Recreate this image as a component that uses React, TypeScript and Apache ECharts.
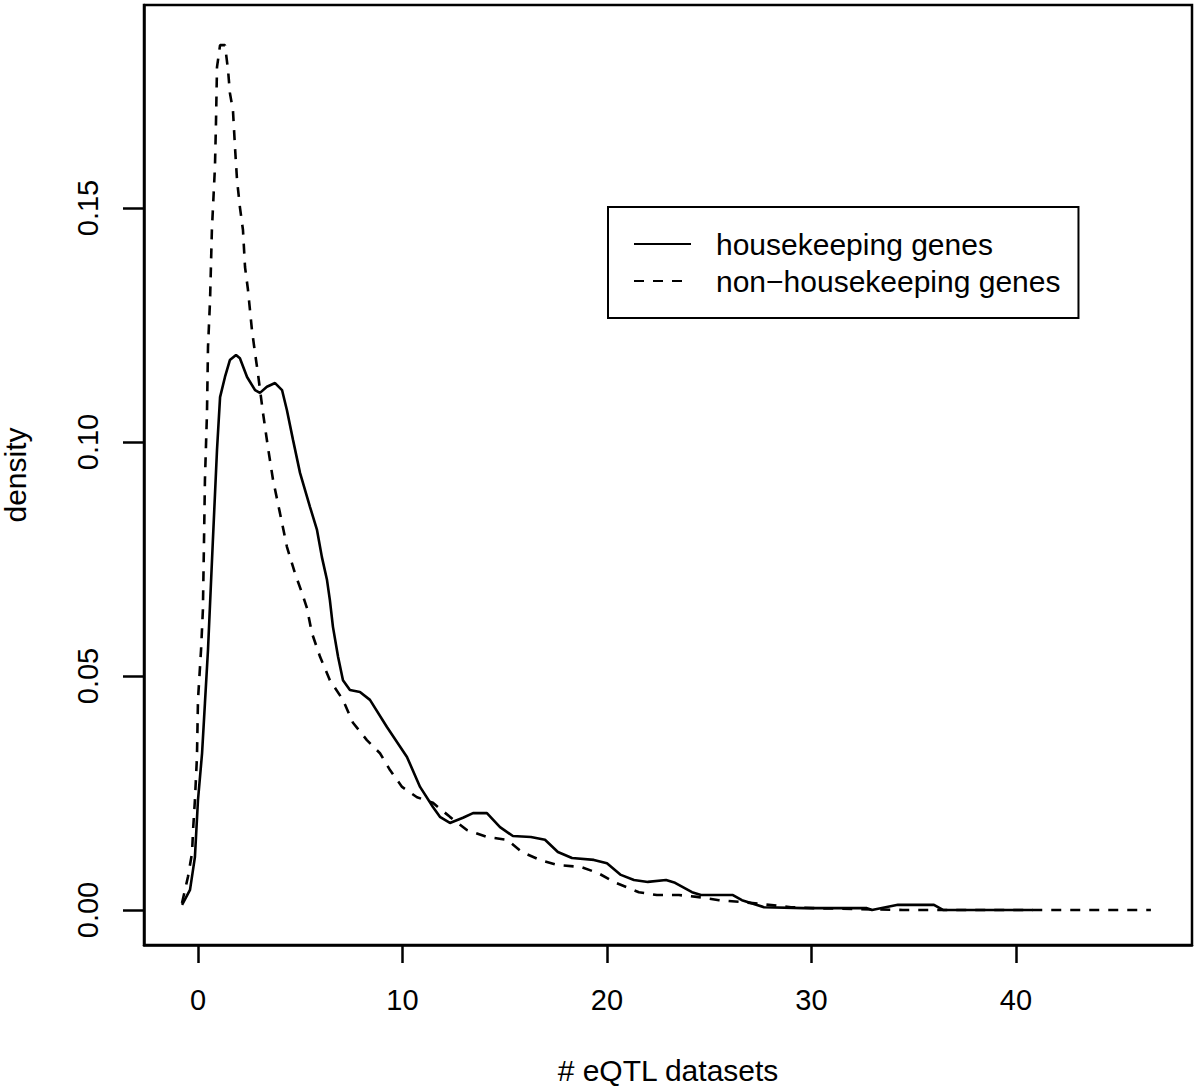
import React, { useEffect, useRef } from "react";
import * as echarts from "echarts";

// Housekeeping genes density (solid)
const hkX = [-0.78, -0.39, -0.15, 0, 0.2, 0.34, 0.49, 0.73, 0.93, 1.08, 1.32, 1.56, 1.86, 2.05, 2.4, 2.79, 3.03, 3.37, 3.77, 4.11, 4.35, 4.65, 4.99, 5.48, 5.82, 6.06, 6.31, 6.45, 6.6, 6.85, 7.09, 7.43, 7.92, 8.41, 9.24, 10.22, 10.86, 11.49, 11.83, 12.32, 12.96, 13.45, 14.13, 14.77, 15.4, 16.28, 16.97, 17.6, 18.29, 19.36, 20, 20.68, 21.32, 22, 22.89, 23.33, 24.16, 24.6, 26.16, 26.6, 27.68, 29.63, 30.51, 32.71, 32.96, 34.23, 35.99, 36.43, 40.83];
const hkY = [0.0011, 0.0043, 0.0113, 0.0235, 0.0335, 0.0442, 0.0556, 0.0791, 0.0983, 0.1096, 0.1139, 0.1175, 0.1186, 0.1179, 0.1139, 0.1111, 0.1105, 0.1118, 0.1126, 0.1111, 0.1068, 0.1004, 0.0934, 0.0861, 0.0812, 0.0754, 0.0705, 0.0662, 0.0605, 0.0541, 0.0491, 0.047, 0.0466, 0.0449, 0.0391, 0.0327, 0.0263, 0.022, 0.0199, 0.0186, 0.0197, 0.0207, 0.0207, 0.0177, 0.0158, 0.0156, 0.015, 0.0124, 0.0111, 0.0107, 0.01, 0.0075, 0.0064, 0.006, 0.0064, 0.0058, 0.0038, 0.0032, 0.0032, 0.0021, 0.0006, 0.0004, 0.0004, 0.0004, 0.0, 0.0011, 0.0011, 0.0, 0.0];

// Non-housekeeping genes density (dashed)
const nhkX = [-0.78, -0.49, -0.29, -0.24, -0.15, -0.05, 0, 0.15, 0.24, 0.29, 0.34, 0.44, 0.49, 0.59, 0.68, 0.83, 0.88, 0.93, 1.08, 1.32, 1.47, 1.56, 1.71, 1.81, 1.91, 2.05, 2.2, 2.3, 2.44, 2.64, 2.79, 2.93, 3.18, 3.42, 3.67, 4.01, 4.35, 4.74, 5.09, 5.33, 5.57, 5.97, 6.45, 7.09, 7.58, 8.26, 8.9, 9.39, 9.98, 10.71, 11.49, 12.32, 13.15, 14.13, 15.11, 15.84, 16.72, 17.6, 18.73, 19.56, 20.44, 21.56, 22.44, 23.52, 24.4, 25.48, 26.6, 27.92, 29, 30.07, 32.27, 34.47, 46.6];
const nhkY = [0.0015, 0.0071, 0.0122, 0.0171, 0.0235, 0.0327, 0.0449, 0.0556, 0.0641, 0.0776, 0.0919, 0.1062, 0.1203, 0.1303, 0.1453, 0.1588, 0.1682, 0.1801, 0.1848, 0.1848, 0.1795, 0.1746, 0.1709, 0.163, 0.156, 0.1502, 0.1453, 0.1374, 0.1327, 0.1239, 0.119, 0.1147, 0.1062, 0.0989, 0.0919, 0.0848, 0.0776, 0.072, 0.0677, 0.0645, 0.0592, 0.0541, 0.0491, 0.0449, 0.04, 0.0363, 0.0335, 0.0299, 0.0263, 0.0241, 0.0229, 0.0199, 0.0171, 0.0156, 0.015, 0.0124, 0.0107, 0.0096, 0.0092, 0.0079, 0.0058, 0.0038, 0.0032, 0.0032, 0.0028, 0.0021, 0.0017, 0.0011, 0.0006, 0.0004, 0.0002, 0, 0];

const xTicks = [0, 10, 20, 30, 40];
const yTicks = [0, 0.05, 0.1, 0.15];
const seriesNames = ["housekeeping genes", "non\u2212housekeeping genes"];
const xTitle = "# eQTL datasets";
const yTitle = "density";

const FONT = 'Arial, "Liberation Sans", sans-serif';

export default function App() {
  const ref = useRef<HTMLDivElement>(null);
  useEffect(() => {
    document.body.style.margin = "0";
    const chart = echarts.init(ref.current!, null, { renderer: "svg" });
    const hkData = hkX.map((x, i) => [x, hkY[i]]);
    const nhkData = nhkX.map((x, i) => [x, nhkY[i]]);
    chart.setOption({
      animation: false,
      backgroundColor: "#ffffff",
      grid: {
        left: 144,
        right: 8,
        top: 5,
        bottom: 146,
        containLabel: false,
        outerBoundsMode: "none",
        show: true,
        borderColor: "#000",
        borderWidth: 2.5,
        backgroundColor: "transparent",
      },
      legend: {
        orient: "vertical",
        left: 608,
        top: 207,
        padding: [22, 18, 22, 25],
        borderColor: "#000",
        borderWidth: 2,
        itemWidth: 57,
        itemHeight: 14,
        itemGap: 7,
        data: seriesNames,
        itemStyle: { color: "rgba(0,0,0,0)", borderWidth: 0, opacity: 0 },
        textStyle: {
          fontFamily: FONT,
          fontSize: 30,
          lineHeight: 30,
          color: "#000",
          padding: [0, 0, 0, 20],
        },
      },
      xAxis: {
        type: "value",
        min: -2.64,
        max: 48.61,
        name: xTitle,
        nameLocation: "middle",
        nameGap: 110,
        nameTextStyle: { fontFamily: FONT, fontSize: 30, color: "#000" },
        axisLine: { show: true, onZero: false, lineStyle: { color: "#000", width: 2.5 } },
        axisTick: {
          show: true,
          length: 18,
          inside: false,
          customValues: xTicks,
          lineStyle: { color: "#000", width: 2.5 },
        },
        axisLabel: {
          customValues: xTicks,
          margin: 40,
          fontFamily: FONT,
          fontSize: 29,
          color: "#000",
        },
        splitLine: { show: false },
      },
      yAxis: {
        type: "value",
        min: -0.00748,
        max: 0.19338,
        name: yTitle,
        nameLocation: "middle",
        nameGap: 114,
        nameRotate: 90,
        nameTextStyle: { fontFamily: FONT, fontSize: 30, color: "#000" },
        axisLine: { show: true, onZero: false, lineStyle: { color: "#000", width: 2.5 } },
        axisTick: {
          show: true,
          length: 21,
          inside: false,
          customValues: yTicks,
          lineStyle: { color: "#000", width: 2.5 },
        },
        axisLabel: {
          customValues: yTicks,
          rotate: 90,
          margin: 42,
          fontFamily: FONT,
          fontSize: 29,
          color: "#000",
          formatter: (v: number) => v.toFixed(2),
        },
        splitLine: { show: false },
      },
      series: [
        {
          name: seriesNames[0],
          type: "line",
          data: hkData,
          symbol: "none",
          smooth: false,
          lineStyle: { color: "#000", width: 2.6, type: "solid" },
          itemStyle: { color: "#000" },
          z: 3,
        },
        {
          name: seriesNames[1],
          type: "line",
          data: nhkData,
          symbol: "none",
          smooth: false,
          lineStyle: { color: "#000", width: 2.6, type: [10, 9] },
          itemStyle: { color: "#000" },
          z: 2,
        },
      ],
    });
    return () => chart.dispose();
  }, []);
  return <div ref={ref} style={{ width: 1200, height: 1091 }} />;
}
